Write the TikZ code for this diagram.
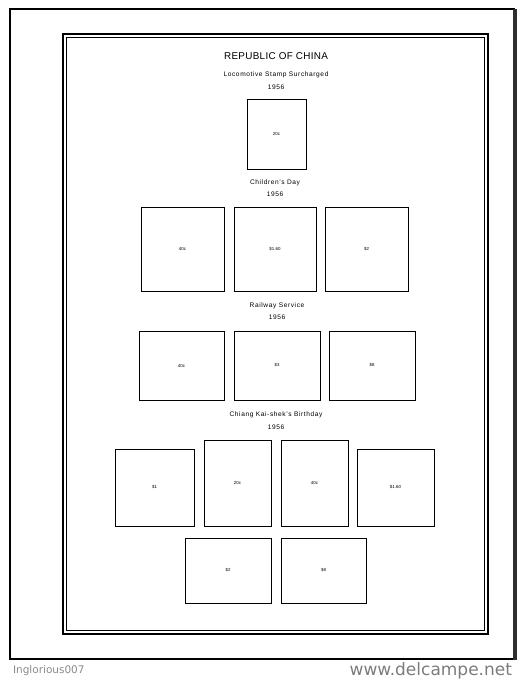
\documentclass[tikz,border=0pt]{standalone}
\usepackage{fontspec}
\setmainfont{Liberation Sans}
\newfontfamily\footfont{DejaVu Sans}
\usepackage{xcolor}
\definecolor{footgray}{HTML}{8A8A8A}
\definecolor{shadowgray}{HTML}{2E2E2E}

\begin{document}
\begin{tikzpicture}[
        x=1pt, y=-1pt,
        inner sep=0pt,
        outer sep=0pt,
        stamp/.style={draw=black, line width=0.8pt, font=\fontsize{4.4}{4.4}\selectfont},
        heading/.style={font=\fontsize{6.6}{7}\selectfont\addfontfeature{LetterSpace=9}},
        thin]
        \useasboundingbox (0,0) rectangle (527,680);
        % FRAMES
        % page
        \draw[line width=1.1pt] (10,9) rectangle (514,659);
        \fill[shadowgray] (512.5,9) rectangle (517,660);
        % album border
        \draw[line width=2pt] (63,34) rectangle (488,634);
        \draw[line width=0.7pt] (66,37.5) rectangle (484.5,630.5);

        % TITLES
        \node[font=\fontsize{9.9}{10}\selectfont\addfontfeature{LetterSpace=3}] (title) at (276,56) {REPUBLIC OF CHINA};
        % set 1
        \node[heading] (locoT) at (276,75) {Locomotive Stamp Surcharged};
        \node[heading] (locoY) at (276,87) {1956};
        % set 2
        \node[heading] (childT) at (275,183) {Children's Day};
        \node[heading] (childY) at (275,194) {1956};
        % set 3
        \node[heading] (railT) at (277,306) {Railway Service};
        \node[heading] (railY) at (277,317) {1956};
        % set 4
        \node[heading] (chiangT) at (276,415) {Chiang Kai-shek's Birthday};
        \node[heading] (chiangY) at (276,427) {1956};

        % STAMPS
        % locomotive
        \node[stamp, minimum width=59pt, minimum height=70pt] (L1) at (276.5,134) {20c};
        % children
        \node[stamp, minimum width=83pt, minimum height=84pt] (C1) at (182.5,249) {40c};
        \node[stamp, minimum width=82pt, minimum height=84pt] (C2) at (275,249) {\$1.60};
        \node[stamp, minimum width=83pt, minimum height=84pt] (C3) at (366.5,249) {\$2};
        % railway
        \node[stamp, minimum width=85pt, minimum height=69pt] (R1) at (181.5,365.5) {40c};
        \node[stamp, minimum width=86pt, minimum height=69pt] (R2) at (277,365.5) {\$3};
        \node[stamp, minimum width=86pt, minimum height=69pt] (R3) at (372,365.5) {\$8};
        % chiang, first row
        \node[stamp, minimum width=79pt, minimum height=77pt] (K1) at (154.5,487.5) {\$1};
        \node[stamp, minimum width=67pt, minimum height=86pt] (K2) at (237.5,483) {20c};
        \node[stamp, minimum width=67pt, minimum height=86pt] (K3) at (314.5,483) {40c};
        \node[stamp, minimum width=77pt, minimum height=77pt] (K4) at (395.5,487.5) {\$1.60};
        % chiang, second row
        \node[stamp, minimum width=86pt, minimum height=65pt] (K5) at (228,570.5) {\$2};
        \node[stamp, minimum width=85pt, minimum height=65pt] (K6) at (323.5,570.5) {\$8};

        % FOOTER
        \node[anchor=west, text=footgray, font=\footfont\fontsize{10.5}{11}\selectfont] (owner) at (13,671) {Inglorious007};
        \node[anchor=east, text=footgray!90!black, font=\footfont\fontsize{17}{18}\selectfont] (site) at (512,671) {www.delcampe.net};
\end{tikzpicture}
\end{document}
